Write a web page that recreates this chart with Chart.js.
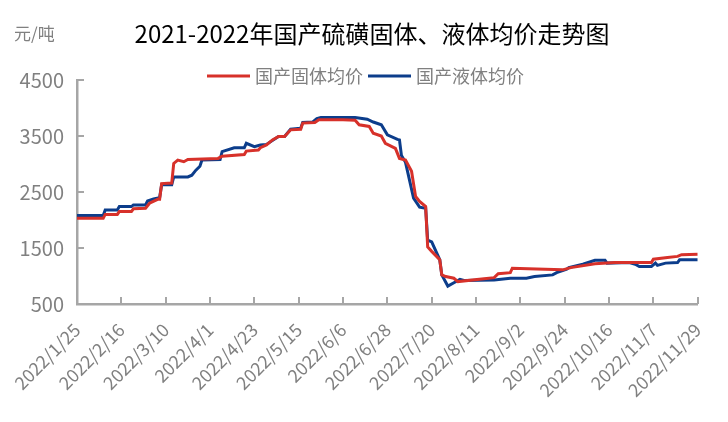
<!DOCTYPE html>
<html>
<head>
<meta charset="utf-8">
<script src="https://cdn.jsdelivr.net/npm/chart.js@4"></script>
<style>
  body { margin: 0; background: #fff; }
  #wrap { width: 728px; height: 422px; position: relative; }
</style>
</head>
<body>
<div id="wrap"><canvas id="chart"></canvas></div>
<script>
// ── DATA (day index from 2022/1/25, price in 元/吨) ──
const xTickLabels = ['2022/1/25', '2022/2/16', '2022/3/10', '2022/4/1', '2022/4/23', '2022/5/15', '2022/6/6',
    '2022/6/28', '2022/7/20', '2022/8/11', '2022/9/2', '2022/9/24', '2022/10/16', '2022/11/7', '2022/11/29'];
const seriesNames = ['国产固体均价', '国产液体均价'];

const solidDays = [0, 13, 14, 20, 21, 27, 28, 34, 36, 40, 41, 42, 47, 48, 50, 53, 55, 70, 72, 83,
    84, 90, 91, 94, 97, 100, 103, 106, 111, 112, 118, 120, 132, 138, 140, 145, 147, 151, 153, 158,
    160, 163, 166, 168, 170, 173, 174, 176, 180, 181, 183, 187, 189, 202, 207, 209, 215, 216, 228, 241,
    245, 257, 267, 285, 286, 293, 298, 300, 308];
const solidPrices = [2030, 2030, 2100, 2100, 2150, 2150, 2200, 2210, 2300, 2370, 2370, 2650, 2660, 3010, 3070, 3040, 3080, 3100, 3140, 3170,
    3230, 3250, 3290, 3340, 3430, 3490, 3490, 3610, 3620, 3730, 3740, 3790, 3790, 3780, 3700, 3670, 3550, 3500, 3370, 3280,
    3100, 3070, 2870, 2420, 2330, 2240, 1520, 1440, 1290, 1020, 990, 960, 900, 950, 970, 1040, 1060, 1140, 1125, 1110,
    1150, 1220, 1240, 1240, 1300, 1330, 1350, 1380, 1390];

const liquidDays = [0, 13, 14, 20, 21, 27, 28, 34, 35, 38, 41, 42, 47, 48, 55, 57, 59, 61, 62, 71,
    72, 78, 83, 84, 88, 91, 94, 100, 103, 106, 111, 112, 117, 119, 121, 138, 144, 147, 151, 154,
    159, 160, 161, 163, 167, 170, 173, 174, 176, 180, 181, 184, 187, 190, 192, 207, 215, 223, 227, 236,
    238, 243, 244, 251, 257, 262, 263, 274, 277, 279, 285, 287, 288, 292, 298, 299, 308];
const liquidPrices = [2080, 2080, 2180, 2180, 2240, 2240, 2270, 2270, 2340, 2375, 2400, 2630, 2630, 2770, 2770, 2800, 2890, 2960, 3070, 3080,
    3220, 3290, 3290, 3370, 3310, 3340, 3350, 3490, 3490, 3620, 3640, 3740, 3750, 3810, 3830, 3830, 3800, 3750, 3700, 3520,
    3440, 3430, 3150, 3030, 2390, 2230, 2210, 1640, 1610, 1290, 1020, 820, 880, 940, 920, 930, 960, 960, 990, 1020,
    1060, 1120, 1150, 1210, 1280, 1280, 1230, 1240, 1210, 1170, 1170, 1230, 1190, 1230, 1240, 1290, 1290];

const COLORS = ['#d7312a', '#0c3d8b'];
const GREY = '#808080';
const AXIS = '#a6a6a6';
const FONT = '"Noto Sans CJK SC", "Noto Sans", sans-serif';

const toPoints = (days, vals) => days.map((d, i) => ({x: d, y: vals[i]}));

// title, unit, legend and inside tick marks
const decor = {
    id: 'decor',
    beforeDatasetsDraw(chart) {
        const {ctx, chartArea: ca, scales} = chart;
        ctx.save();
        ctx.strokeStyle = AXIS;
        ctx.lineWidth = 2;
        scales.y.ticks.forEach(t => {
            const y = Math.round(scales.y.getPixelForValue(t.value));
            ctx.beginPath(); ctx.moveTo(ca.left, y); ctx.lineTo(ca.left + 7, y); ctx.stroke();
        });
        scales.x.ticks.forEach(t => {
            const x = Math.round(scales.x.getPixelForValue(t.value));
            ctx.beginPath(); ctx.moveTo(x, ca.bottom); ctx.lineTo(x, ca.bottom - 7); ctx.stroke();
        });
        ctx.restore();
    },
    afterDraw(chart) {
        const {ctx} = chart;
        ctx.save();
        ctx.textBaseline = 'middle';
        ctx.fillStyle = '#000';
        ctx.font = '24px ' + FONT;
        ctx.textAlign = 'center';
        ctx.fillText('2021-2022年国产硫磺固体、液体均价走势图', 372, 34);

        ctx.fillStyle = GREY;
        ctx.font = '17px ' + FONT;
        ctx.textAlign = 'left';
        ctx.fillText('元/吨', 14, 34);

        // legend
        const items = [{x: 207, tx: 255}, {x: 368, tx: 416}];
        ctx.font = '18px ' + FONT;
        items.forEach((it, i) => {
            ctx.strokeStyle = COLORS[i];
            ctx.lineWidth = 3;
            ctx.beginPath(); ctx.moveTo(it.x, 76); ctx.lineTo(it.x + 43, 76); ctx.stroke();
            ctx.fillStyle = GREY;
            ctx.fillText(seriesNames[i], it.tx, 76);
        });
        ctx.restore();
    }
};

new Chart(document.getElementById('chart'), {
    type: 'line',
    data: {
        datasets: [
            {label: seriesNames[0], data: toPoints(solidDays, solidPrices), borderColor: COLORS[0], borderWidth: 3, pointRadius: 0, tension: 0},
            {label: seriesNames[1], data: toPoints(liquidDays, liquidPrices), borderColor: COLORS[1], borderWidth: 3, pointRadius: 0, tension: 0}
        ]
    },
    options: {
        responsive: true, maintainAspectRatio: false, animation: false,
        layout: {padding: {top: 80, right: 26, left: 0, bottom: 0}},
        plugins: {legend: {display: false}, tooltip: {enabled: false}, title: {display: false}},
        scales: {
            x: {
                type: 'linear', min: 0, max: 308,
                grid: {display: false, drawTicks: false},
                border: {display: true, color: AXIS, width: 2.5},
                ticks: {
                    stepSize: 22, autoSkip: false, maxRotation: 45, minRotation: 45, padding: 15,
                    color: GREY, font: {family: FONT, size: 18},
                    callback: v => xTickLabels[Math.round(v / 22)]
                },
                afterFit: s => { s.height = 118; }
            },
            y: {
                min: 500, max: 4500,
                grid: {display: false, drawTicks: false},
                border: {display: true, color: AXIS, width: 2.5},
                ticks: {stepSize: 1000, padding: 13, color: GREY, font: {family: FONT, size: 20}, callback: v => String(v)},
                afterFit: s => { s.width = 77; }
            }
        }
    },
    plugins: [decor]
});
</script>
</body>
</html>
